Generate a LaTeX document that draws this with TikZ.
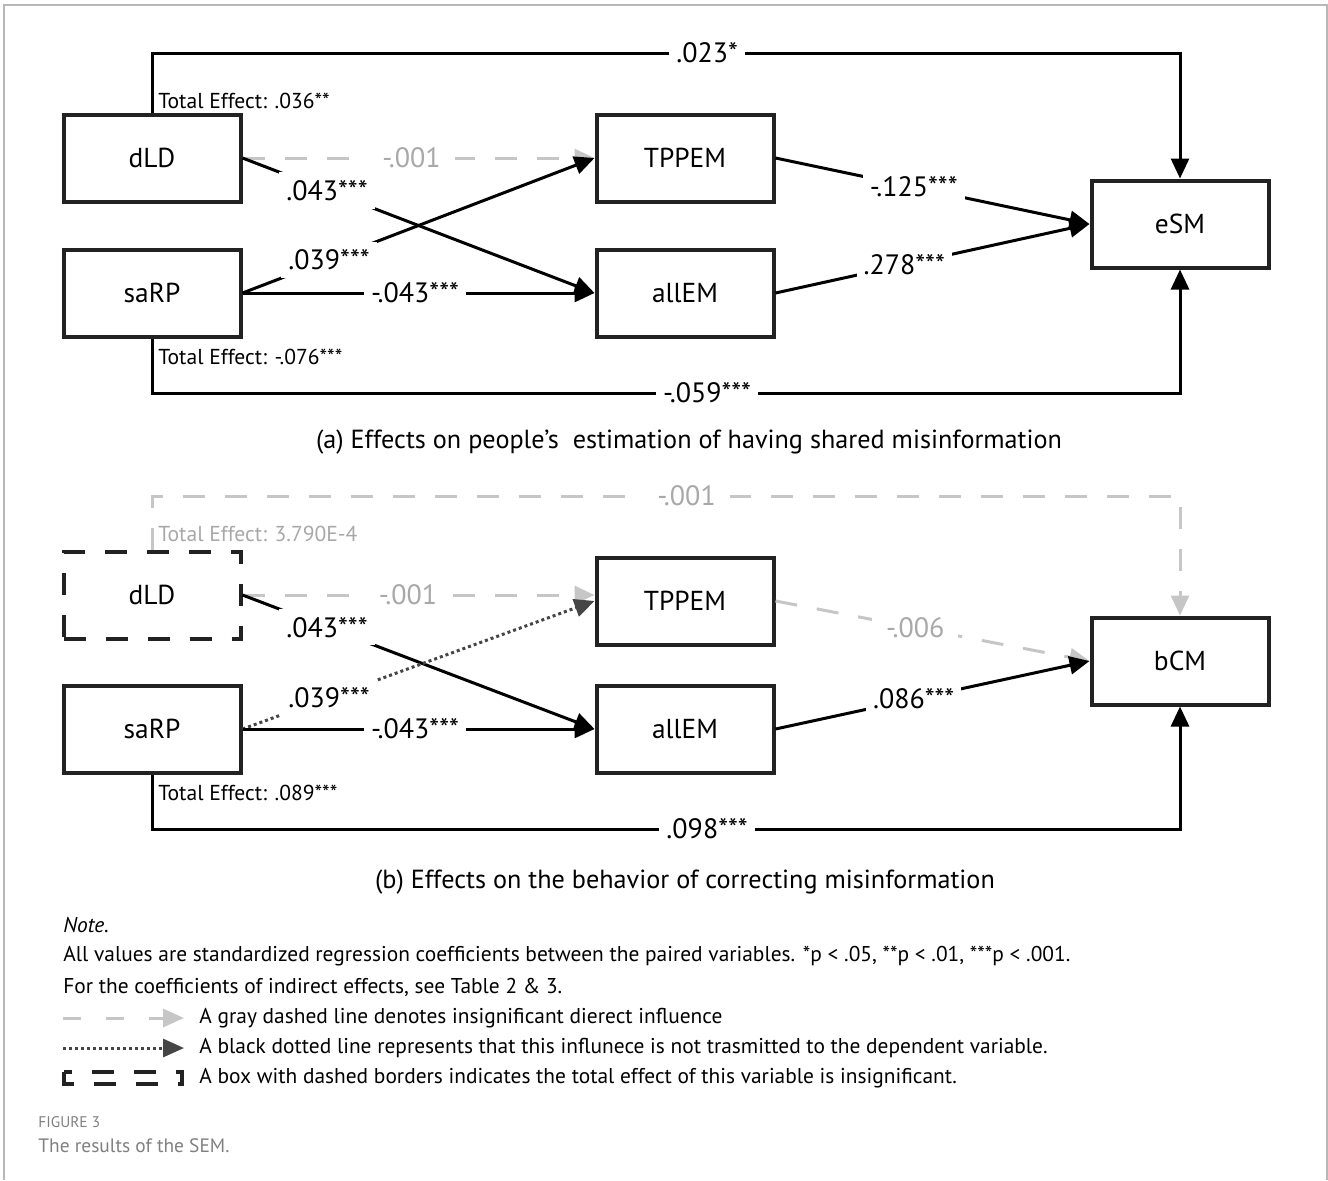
\documentclass[tikz,border=0pt]{standalone}
\usepackage{fontspec}
\setmainfont{PT Sans}
\usetikzlibrary{arrows.meta}
\definecolor{boxline}{HTML}{222222}
\definecolor{nsline}{HTML}{C6C6C6}
\definecolor{nstext}{HTML}{A8A8A8}
\definecolor{dotline}{HTML}{454545}
\definecolor{framegray}{HTML}{B8B8B8}
\definecolor{capgray}{HTML}{808080}
\tikzset{
  var/.style={draw=boxline, line width=2pt, minimum width=88.5pt, minimum height=43.5pt, inner sep=0pt, font=\fontsize{13.7}{16}\selectfont},
  nsvar/.style={var, dash pattern=on 11pt off 10pt},
  coef/.style={fill=white, inner xsep=3.5pt, inner ysep=4pt, font=\fontsize{14}{16}\selectfont},
  nscoef/.style={coef, text=nstext, inner xsep=7pt},
  total/.style={anchor=west, inner sep=0pt, font=\fontsize{10.8}{12}\selectfont},
  bighead/.style={-{Triangle[length=10pt,width=9pt]}},
  sig/.style={bighead, line width=1.5pt, draw=black},
  insig/.style={bighead, line width=1.5pt, draw=nsline, dash pattern=on 11pt off 10pt},
  notrans/.style={bighead, line width=1.5pt, draw=dotline, dash pattern=on 1.5pt off 1.5pt},
  capt/.style={font=\fontsize{13.1}{15}\selectfont},
  notetext/.style={anchor=west, inner sep=0pt, font=\fontsize{10.7}{12}\selectfont},
}
\begin{document}
\begin{tikzpicture}[x=0.5pt, y=-0.5pt]
\useasboundingbox (0,0) rectangle (1328,1180);
% frame
\draw[framegray, line width=1pt] (4,1180) -- (4,5) -- (1327,5) -- (1327,1180);

% (a) estimation of having shared misinformation
\node[var] (dLDa) at (152,158) {dLD};
\node[var] (saRPa) at (152,293) {saRP};
\node[var] (TPPEMa) at (685,158) {TPPEM};
\node[var] (allEMa) at (685,293) {allEM};
\node[var] (eSMa) at (1180,224) {eSM};

\draw[sig] (dLDa.north) -- (dLDa.north |- 0,53) -- node[coef, pos=0.54] {.023*} (eSMa.north |- 0,53) -- (eSMa.north); % direct dLD
\draw[sig] (saRPa.south) -- (saRPa.south |- 0,393) -- node[coef, pos=0.54] {-.059***} (eSMa.south |- 0,393) -- (eSMa.south); % direct saRP
\node[total] (totdLDa) at (158,101) {Total Effect: .036**};
\node[total] (totsaRPa) at (158,357) {Total Effect: -.076***};

\draw[insig] (dLDa.east) -- node[nscoef, pos=0.48] {-.001} (TPPEMa.west);
\draw[sig] (dLDa.east) -- node[coef, pos=0.24] {.043***} (allEMa.west);
\draw[sig] (saRPa.east) -- node[coef, pos=0.246] {.039***} (TPPEMa.west);
\draw[sig] (saRPa.east) -- node[coef, pos=0.49] {-.043***} (allEMa.west);
\draw[sig] (TPPEMa.east) -- node[coef, pos=0.44] {-.125***} (eSMa.west);
\draw[sig] (allEMa.east) -- node[coef, pos=0.41] {.278***} (eSMa.west);

\node[capt] (capa) at (689,442) {(a) Effects on people’s\ \ estimation of having shared misinformation};

% (b) behavior of correcting misinformation
\node[nsvar] (dLDb) at (152,595) {dLD};
\node[var] (saRPb) at (152,729) {saRP};
\node[var] (TPPEMb) at (685,601) {TPPEM};
\node[var] (allEMb) at (685,729) {allEM};
\node[var] (bCMb) at (1180,661) {bCM};

\draw[insig] (dLDb.north) -- (dLDb.north |- 0,496) -- node[nscoef, pos=0.52] {-.001} (bCMb.north |- 0,496) -- (bCMb.north);
\draw[sig] (saRPb.south) -- (saRPb.south |- 0,829) -- node[coef, pos=0.54] {.098***} (bCMb.south |- 0,829) -- (bCMb.south);
\node[total, text=nstext] (totdLDb) at (158,534) {Total Effect: 3.790E-4};
\node[total] (totsaRPb) at (158,793) {Total Effect: .089***};

\draw[insig] (dLDb.east) -- node[nscoef, pos=0.47] {-.001} (dLDb.east -| TPPEMb.west);
\draw[sig] (dLDb.east) -- node[coef, pos=0.24] {.043***} (allEMb.west);
\draw[notrans] (saRPb.east) -- node[coef, pos=0.246] {.039***} (TPPEMb.west);
\draw[sig] (saRPb.east) -- node[coef, pos=0.49] {-.043***} (allEMb.west);
\draw[insig] (TPPEMb.east) -- node[nscoef, pos=0.445] {-.006} (bCMb.west);
\draw[sig] (allEMb.east) -- node[coef, pos=0.44] {.086***} (bCMb.west);

\node[capt] (capb) at (685,882) {(b) Effects on the behavior of correcting misinformation};

% note and legend
\node[notetext] (note) at (63,925) {\textit{Note.}};
\node[notetext] (note1) at (63,956) {All values are standardized regression coefficients between the paired variables. *p < .05, **p < .01, ***p < .001.};
\node[notetext] (note2) at (63,987) {For the coefficients of indirect effects, see Table 2 \& 3.};
\coordinate (lg1a) at (63,1018); \coordinate (lg1b) at (184,1018);
\coordinate (lg2a) at (63,1048); \coordinate (lg2b) at (184,1048);
\draw[insig, dash pattern=on 9pt off 12.5pt, -{Triangle[length=10.5pt,width=9pt]}] (lg1a) -- (lg1b);
\draw[notrans, -{Triangle[length=10.5pt,width=9pt]}] (lg2a) -- (lg2b);
\draw[draw=boxline, line width=2pt, dash pattern=on 11pt off 10pt] (64,1072) rectangle (182,1084);
\node[notetext] (lg1) at (199,1018) {A gray dashed line denotes insignificant dierect influence};
\node[notetext] (lg2) at (199,1048) {A black dotted line represents that this influnece is not trasmitted to the dependent variable.};
\node[notetext] (lg3) at (199,1078) {A box with dashed borders indicates the total effect of this variable is insignificant.};

\node[anchor=west, inner sep=0pt, text=capgray, font=\fontsize{7.7}{9}\selectfont] (fig) at (38,1122) {FIGURE 3};
\node[anchor=west, inner sep=0pt, text=capgray, font=\fontsize{9.7}{11}\selectfont] (figcap) at (38,1146) {The results of the SEM.};
\end{tikzpicture}
\end{document}
